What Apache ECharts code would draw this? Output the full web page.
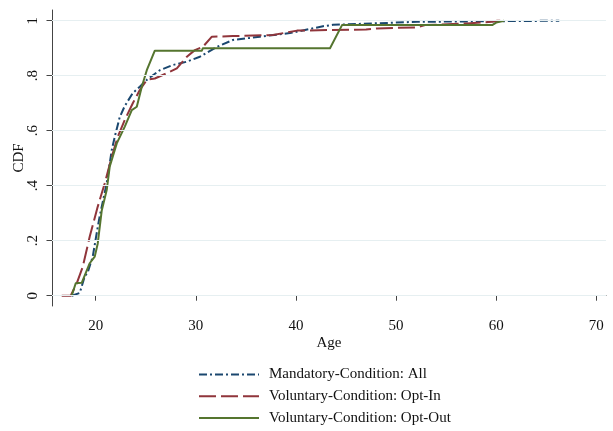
<!DOCTYPE html>
<html>
<head>
<meta charset="utf-8">
<script src="https://cdn.jsdelivr.net/npm/echarts@6/dist/echarts.min.js"></script>
<style>
  html, body { margin: 0; padding: 0; background: #fff; }
  #chart { width: 613px; height: 431px; }
</style>
</head>
<body>
<div id="chart"></div>
<script>
// Empirical CDF of age, by condition
const mandatoryAge = [17.6, 18.4, 18.9, 19.2, 19.7, 20.2, 20.4, 21.1, 21.6, 21.9, 22.4, 22.9, 23.7, 24.4, 25.1, 26.4, 27.7, 29.1, 30.4, 32.1, 33.7, 36.4, 39.4, 42.7, 43.7, 52.1, 66.3];
const mandatoryCdf = [0, 0.01, 0.07, 0.085, 0.142, 0.25, 0.29, 0.41, 0.53, 0.578, 0.65, 0.69, 0.737, 0.76, 0.785, 0.82, 0.839, 0.851, 0.869, 0.905, 0.93, 0.942, 0.955, 0.98, 0.985, 0.996, 1];

const optInAge = [16.6, 17.5, 18.1, 18.7, 19.4, 20.2, 20.9, 21.6, 22.2, 22.9, 23.7, 24.4, 25.1, 25.9, 27.1, 28.1, 29.1, 29.9, 30.7, 31.6, 33.7, 37.7, 40.1, 43.1, 47.0, 48.1, 52.1, 52.9, 57.1, 59.6, 60.1, 60.4];
const optInCdf = [0, 0, 0.045, 0.105, 0.215, 0.324, 0.409, 0.505, 0.578, 0.639, 0.70, 0.748, 0.785, 0.79, 0.809, 0.827, 0.869, 0.893, 0.905, 0.942, 0.944, 0.948, 0.964, 0.966, 0.968, 0.972, 0.976, 0.984, 0.99, 0.996, 1, 1];

const optOutAge = [17.6, 18.0, 18.6, 19.4, 19.9, 20.2, 20.6, 21.1, 21.4, 22.1, 22.9, 23.6, 24.1, 24.6, 25.1, 25.9, 30.6, 30.7, 43.4, 44.6, 59.6, 60.0, 60.8];
const optOutCdf = [0, 0.045, 0.047, 0.118, 0.142, 0.19, 0.31, 0.385, 0.47, 0.554, 0.615, 0.675, 0.687, 0.76, 0.82, 0.891, 0.891, 0.9, 0.9, 0.984, 0.984, 0.993, 1];

const xTicks = [20, 30, 40, 50, 60, 70];
const yTicks = [0, 0.2, 0.4, 0.6, 0.8, 1];

const seriesNames = ['Mandatory-Condition: All', 'Voluntary-Condition: Opt-In', 'Voluntary-Condition: Opt-Out'];

const pairs = (xs, ys) => xs.map((x, i) => [x, ys[i]]);
const serif = "'Liberation Serif', 'DejaVu Serif', serif";

const chart = echarts.init(document.getElementById('chart'), null, { renderer: 'canvas' });

const lineSeries = (name, data, color, type) => ({
  name,
  type: 'line',
  data,
  symbol: 'none',
  showSymbol: false,
  smooth: false,
  z: 3,
  lineStyle: { color, width: 2, type, cap: 'butt', join: 'round' },
  itemStyle: { color }
});

chart.setOption({
  animation: false,
  backgroundColor: '#ffffff',
  textStyle: { fontFamily: serif },
  grid: { left: 52, right: 7, top: 10, bottom: 125, containLabel: false, outerBoundsMode: 'none' },
  xAxis: {
    type: 'value',
    min: 15.63,
    max: 70.97,
    name: 'Age',
    nameLocation: 'middle',
    nameGap: 30,
    nameMoveOverlap: false,
    nameTextStyle: { fontFamily: serif, fontSize: 15, color: '#111' },
    axisLine: { show: true, lineStyle: { color: '#444', width: 1 } },
    axisTick: { show: true, customValues: xTicks, length: 5, lineStyle: { color: '#444' } },
    axisLabel: { customValues: xTicks, fontFamily: serif, fontSize: 15, color: '#111', margin: 13 },
    splitLine: { show: false }
  },
  yAxis: {
    type: 'value',
    min: -0.0375,
    max: 1.039,
    name: 'CDF',
    nameLocation: 'middle',
    nameRotate: 90,
    nameGap: 25,
    nameMoveOverlap: false,
    nameTextStyle: { fontFamily: serif, fontSize: 15, color: '#111' },
    axisLine: { show: true, lineStyle: { color: '#444', width: 1 } },
    axisTick: { show: true, customValues: yTicks, length: 5.5, lineStyle: { color: '#444' } },
    axisLabel: {
      customValues: yTicks,
      rotate: 90,
      fontFamily: serif,
      fontSize: 15,
      color: '#111',
      margin: 11,
      formatter: v => (v === 0 ? '0' : v === 1 ? '1' : String(v).replace(/^0/, ''))
    },
    splitLine: { show: false }
  },
  legend: {
    orient: 'vertical',
    left: 193,
    top: 361.5,
    height: 68,
    itemWidth: 60,
    itemHeight: 14,
    itemGap: 5.7,
    data: seriesNames,
    itemStyle: { opacity: 0 },
    textStyle: { fontFamily: serif, fontSize: 15, lineHeight: 16, color: '#111', padding: [0, 0, 0, 5] }
  },
  series: [
    {
      // horizontal reference lines at the labelled CDF levels
      type: 'line',
      data: [],
      silent: true,
      z: 1,
      markLine: {
        silent: true,
        symbol: 'none',
        label: { show: false },
        lineStyle: { color: '#e6eff1', width: 1, type: 'solid' },
        data: yTicks.map(v => ({ yAxis: v }))
      }
    },
    lineSeries(seriesNames[0], pairs(mandatoryAge, mandatoryCdf), '#1a476f', [8, 3, 2, 3]),
    lineSeries(seriesNames[1], pairs(optInAge, optInCdf), '#90353b', [17, 5]),
    lineSeries(seriesNames[2], pairs(optOutAge, optOutCdf), '#55752f', 'solid')
  ]
});
</script>
</body>
</html>
